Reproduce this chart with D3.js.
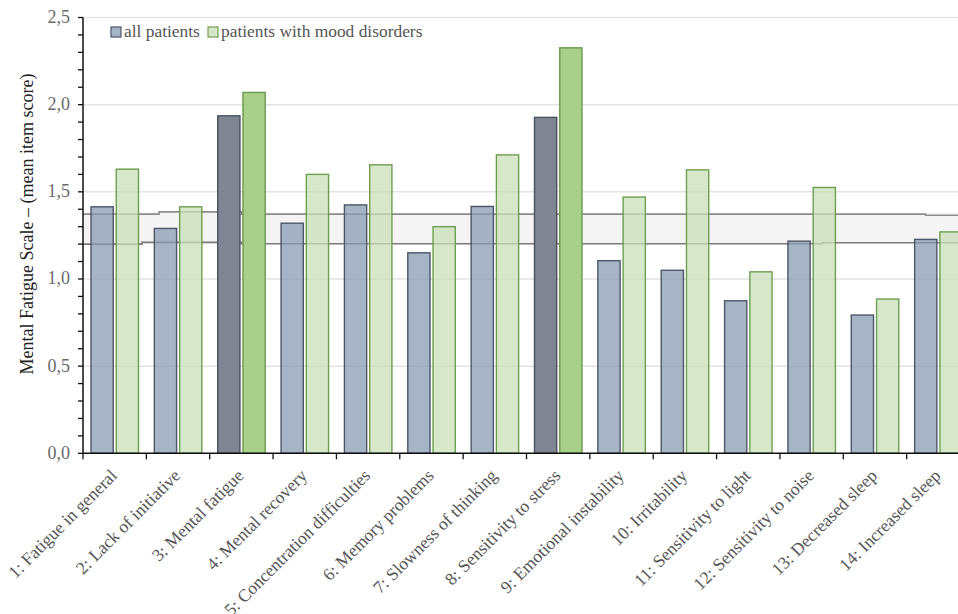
<!DOCTYPE html>
<html><head><meta charset="utf-8">
<script src="https://cdn.jsdelivr.net/npm/d3@7"></script>
<style>body{margin:0;background:#fff;} svg{display:block;}</style>
</head><body>
<svg id="chart" width="958" height="614"></svg>
<script>
const categories = ["1: Fatigue in general","2: Lack of initiative","3: Mental fatigue","4: Mental recovery","5: Concentration difficulties","6: Memory problems","7: Slowness of thinking","8: Sensitivity to stress","9: Emotional instability","10: Irritability","11: Sensitivity to light","12: Sensitivity to noise","13: Decreased sleep","14: Increased sleep"];
const allPatients = [1.414,1.29,1.936,1.32,1.425,1.15,1.416,1.927,1.105,1.05,0.875,1.217,0.793,1.227];
const moodDisorders = [1.63,1.414,2.07,1.60,1.655,1.30,1.712,2.326,1.47,1.626,1.041,1.525,0.885,1.27];
const highlighted = [3, 8];
const seriesNames = ["all patients","patients with mood disorders"];
const yTicks = [0,0.5,1.0,1.5,2.0,2.5];
// reference band (in category-position units, value)
const bandUpper = [[0,1.372],[1.2,1.372],[1.2,1.385],[2.5,1.385],[2.5,1.372],[13.3,1.372],[13.3,1.366],[14,1.366]];
const bandLower = [[0,1.200],[0.93,1.200],[0.93,1.210],[2.5,1.210],[2.5,1.202],[11.67,1.202],[11.67,1.208],[14,1.208]];

(function(){
const svg = d3.select("#chart");
const mLeft = 83, mRight = 970, mTop = 17.5, mBottom = 453.3;
const font = "'Liberation Serif','Times New Roman',serif";

const x = d3.scaleBand().domain(categories).range([mLeft, mRight]).padding(0);
const xs = d3.scaleBand().domain(seriesNames).range([8, 55.5]).paddingInner(0.12).paddingOuter(0);
const y = d3.scaleLinear().domain([0, 2.5]).range([mBottom, mTop]);
const xpos = d3.scaleLinear().domain([0, categories.length]).range([mLeft, mRight]);

// grid
svg.append("g").selectAll("line").data(yTicks.filter(d => d > 0)).join("line")
  .attr("x1", mLeft).attr("x2", 958).attr("y1", d => y(d)).attr("y2", d => y(d))
  .attr("stroke", "#e3e3e3").attr("stroke-width", 1.5);

// band
svg.append("rect").attr("x", xpos(0)).attr("width", xpos(14) - xpos(0))
  .attr("y", y(1.378)).attr("height", y(1.204) - y(1.378)).attr("fill", "#f4f4f4");
const line = d3.line().x(d => xpos(d[0])).y(d => y(d[1]));
svg.append("path").attr("d", line(bandUpper)).attr("fill", "none").attr("stroke", "#8c8c8c").attr("stroke-width", 1.6);
svg.append("path").attr("d", line(bandLower)).attr("fill", "none").attr("stroke", "#7a7a7a").attr("stroke-width", 1.6);

// bars
const styles = {
  "all patients": {light: {fill: "rgb(138,155,179)", op: 0.75, stroke: "#4d5669"}, dark: {fill: "#7f8692", op: 1, stroke: "#4a5262"}},
  "patients with mood disorders": {light: {fill: "rgb(200,224,183)", op: 0.75, stroke: "#6e9e52"}, dark: {fill: "#a8d08a", op: 1, stroke: "#6a9a4c"}}
};
const rows = [];
categories.forEach((c, i) => {
  const hi = highlighted.includes(i + 1);
  rows.push({c, s: seriesNames[0], v: allPatients[i], hi});
  rows.push({c, s: seriesNames[1], v: moodDisorders[i], hi});
});
svg.append("g").selectAll("rect").data(rows).join("rect")
  .attr("x", d => x(d.c) + xs(d.s)).attr("width", xs.bandwidth())
  .attr("y", d => y(d.v)).attr("height", d => y(0) - y(d.v))
  .attr("fill", d => styles[d.s][d.hi ? "dark" : "light"].fill)
  .attr("fill-opacity", d => styles[d.s][d.hi ? "dark" : "light"].op)
  .attr("stroke", d => styles[d.s][d.hi ? "dark" : "light"].stroke)
  .attr("stroke-width", 1.4);

// y axis
const yMinor = d3.range(0, 26).map(d => d / 10);
const ya = svg.append("g");
ya.append("line").attr("x1", mLeft).attr("x2", mLeft).attr("y1", mTop).attr("y2", mBottom).attr("stroke", "#111").attr("stroke-width", 1.5);
ya.selectAll("line.t").data(yMinor).join("line").attr("class", "t")
  .attr("x1", mLeft - 5).attr("x2", mLeft).attr("y1", d => y(d)).attr("y2", d => y(d))
  .attr("stroke", "#111").attr("stroke-width", 1.3);
ya.selectAll("text").data(yTicks).join("text")
  .attr("x", mLeft - 13).attr("y", d => y(d)).attr("dy", "0.3em")
  .attr("text-anchor", "end").attr("font-family", font).attr("font-size", 18).attr("fill", "#6a6a6a")
  .text(d => d3.format(".1f")(d).replace(".", ","));
svg.append("text").attr("transform", `translate(33,224) rotate(-90)`)
  .attr("text-anchor", "middle").attr("font-family", font).attr("font-size", 18).attr("fill", "#222")
  .text("Mental Fatigue Scale – (mean item score)");

// x axis
const xa = svg.append("g");
xa.append("line").attr("x1", mLeft).attr("x2", 958).attr("y1", mBottom).attr("y2", mBottom).attr("stroke", "#111").attr("stroke-width", 1.5);
xa.selectAll("line.t").data(d3.range(0, categories.length + 1)).join("line").attr("class", "t")
  .attr("x1", d => xpos(d)).attr("x2", d => xpos(d)).attr("y1", mBottom).attr("y2", mBottom + 6)
  .attr("stroke", "#111").attr("stroke-width", 1.3);
xa.selectAll("text").data(categories).join("text")
  .attr("transform", d => `translate(${x(d) + x.bandwidth() / 2 - 1},${mBottom + 19}) rotate(-45)`)
  .attr("text-anchor", "end").attr("dy", "0.35em")
  .attr("font-family", font).attr("font-size", 17.6).attr("fill", "#555")
  .text(d => d);

// legend
const lg = svg.append("g").attr("transform", "translate(111,26)");
const legendItems = [{s: seriesNames[0], x: 0}, {s: seriesNames[1], x: 97}];
legendItems.forEach(it => {
  const st = styles[it.s].light;
  lg.append("rect").attr("x", it.x).attr("y", 1).attr("width", 10).attr("height", 10)
    .attr("fill", st.fill).attr("fill-opacity", st.op).attr("stroke", st.stroke).attr("stroke-width", 1.2);
  lg.append("text").attr("x", it.x + 13).attr("y", 10.5).attr("font-family", font).attr("font-size", 17.4)
    .attr("fill", "#555").text(it.s);
});
})();
</script>
</body></html>
